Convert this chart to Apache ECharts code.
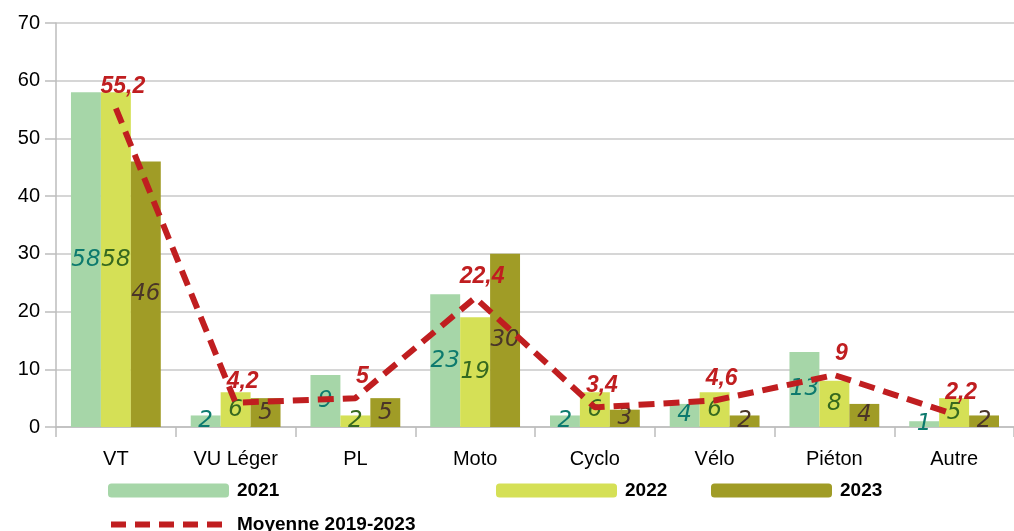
<!DOCTYPE html>
<html>
<head>
	<meta charset="utf-8">
	<title>Véhicules</title>
	<script src="https://cdn.jsdelivr.net/npm/echarts@6/dist/echarts.min.js"></script>
	<style>
		body { margin: 0; background: #fff; }
		#main { width: 1014px; height: 531px; }
	</style>
</head>
<body>
<div id="main"></div>
<script type="text/javascript">
// données
var categories = ['VT', 'VU Léger', 'PL', 'Moto', 'Cyclo', 'Vélo', 'Piéton', 'Autre'];
var v2021 = [58, 2, 9, 23, 2, 4, 13, 1];
var v2022 = [58, 6, 2, 19, 6, 6, 8, 5];
var v2023 = [46, 5, 5, 30, 3, 2, 4, 2];
var moyenne = [55.2, 4.2, 5, 22.4, 3.4, 4.6, 9, 2.2];
var yTicks = [0, 70, 10]; // min, max, pas

var myChart = echarts.init(document.getElementById('main'));

function barLabel(color) {
	return {
		show: true,
		position: 'inside',
		color: color,
		fontFamily: 'DejaVu Sans',
		fontStyle: 'italic',
		fontSize: 23
	};
}

function legendBox(name, left, top) {
	return {
		data: [name],
		left: left,
		top: top,
		itemWidth: 121,
		itemHeight: 14,
		itemGap: 0,
		textStyle: { color: '#000', fontWeight: 'bold', fontSize: 19, fontFamily: 'Liberation Sans', padding: [0, 0, 0, 3] }
	};
}

var legMoy = legendBox('Moyenne 2019-2023', 103, 510);
legMoy.itemWidth = 118;
legMoy.itemStyle = { opacity: 0 };
legMoy.lineStyle = { width: 6, type: [15, 9], color: '#c01e20' };

var option = {
	animation: false,
	grid: { left: 56, top: 23, width: 968, height: 404 },
	legend: [
		legendBox('2021', 103, 476),
		legendBox('2022', 491, 476),
		legendBox('2023', 706, 476),
		legMoy
	],
	xAxis: {
		type: 'category',
		data: categories,
		axisLine: { lineStyle: { color: '#bdbdbd', width: 1.5 } },
		axisTick: { show: true, length: 10, lineStyle: { color: '#bdbdbd', width: 1.5 } },
		axisLabel: { color: '#000', fontSize: 20, fontFamily: 'Liberation Sans', margin: 22 }
	},
	yAxis: {
		type: 'value',
		min: yTicks[0],
		max: yTicks[1],
		interval: yTicks[2],
		axisLine: { show: true, lineStyle: { color: '#bdbdbd', width: 1.5 } },
		axisTick: { show: true, length: 11, lineStyle: { color: '#bdbdbd', width: 1.5 } },
		splitLine: { lineStyle: { color: '#c8c8c8', width: 1.5 } },
		axisLabel: { color: '#000', fontSize: 20, fontFamily: 'Liberation Sans', margin: 16 }
	},
	series: [
		{
			name: '2021', type: 'bar', data: v2021,
			barGap: '0%', barCategoryGap: '25%',
			itemStyle: { color: '#a6d6a8' },
			label: barLabel('#0d7a6e')
		},
		{
			name: '2022', type: 'bar', data: v2022,
			itemStyle: { color: '#d5e056' },
			label: barLabel('#36691f')
		},
		{
			name: '2023', type: 'bar', data: v2023,
			itemStyle: { color: '#a09c26' },
			label: barLabel('#4a3528')
		},
		{
			name: 'Moyenne 2019-2023', type: 'line', data: moyenne,
			symbol: 'circle',
			symbolSize: 0.1,
			showSymbol: true,
			lineStyle: { color: '#c01e20', width: 6, type: [16, 9] },
			itemStyle: { color: '#c01e20' },
			z: 5,
			label: {
				show: true,
				position: 'top',
				distance: 10,
				offset: [7, 0],
				color: '#c01e20',
				fontFamily: 'Liberation Sans',
				fontStyle: 'italic',
				fontWeight: 'bold',
				fontSize: 23,
				formatter: function (p) { return String(p.value).replace('.', ','); }
			}
		}
	]
};

myChart.setOption(option);
</script>
</body>
</html>
